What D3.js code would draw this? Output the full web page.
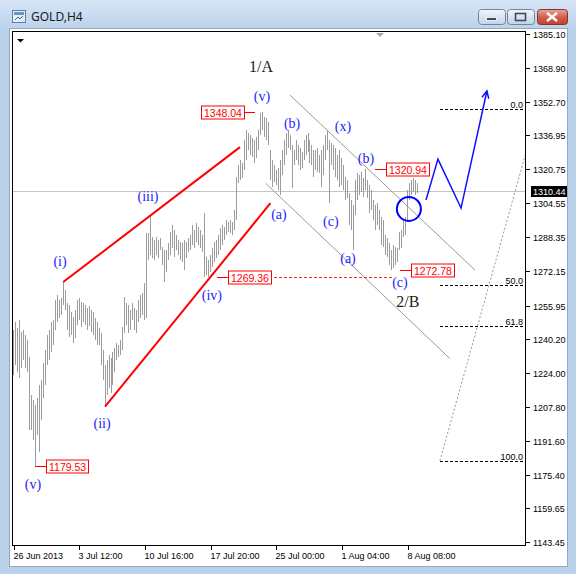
<!DOCTYPE html>
<html><head><meta charset="utf-8">
<script src="https://cdn.jsdelivr.net/npm/d3@7"></script>
<style>
html,body{margin:0;padding:0;background:#fff;}
svg{display:block;}
</style></head>
<body>
<svg id="c" width="576" height="574"></svg>
<script>
// ---------- DATA ----------
const highs = [
1244.3,1248.1,1245.2,1249.0,1243.3,1244.3,1241.9,1239.5,1231.5,1213.4,
1211.0,1208.6,1211.9,1218.1,1220.5,1228.6,1234.8,1241.9,1244.3,1248.1,
1249.0,1258.6,1260.9,1258.6,1259.5,1267.1,1263.3,1257.1,1256.2,1252.9,
1250.5,1253.8,1258.6,1259.5,1257.6,1257.1,1256.2,1254.8,1255.7,1253.8,
1252.9,1250.0,1248.1,1245.2,1242.9,1234.8,1227.6,1230.0,1232.4,1231.0,
1233.8,1235.7,1238.1,1237.2,1239.5,1245.7,1260.0,1257.1,1256.2,1253.8,
1257.1,1254.8,1253.8,1258.6,1260.9,1261.9,1266.6,1290.4,1290.4,1299.0,
1288.5,1287.1,1288.5,1287.1,1288.1,1283.8,1282.4,1282.4,1285.7,1290.9,
1294.2,1291.9,1289.5,1287.1,1286.2,1285.7,1287.1,1286.2,1288.1,1289.5,
1294.2,1291.9,1295.2,1293.3,1291.9,1289.5,1299.9,1279.0,1277.6,1280.0,
1283.3,1286.2,1287.1,1289.5,1292.8,1294.2,1293.3,1296.6,1295.7,1296.6,
1295.7,1301.4,1317.1,1322.8,1325.2,1323.7,1334.7,1339.4,1338.0,1337.1,
1335.6,1334.7,1336.1,1339.4,1347.5,1348.04,1345.6,1345.1,1343.2,1329.9,
1325.2,1322.8,1320.4,1321.4,1325.2,1329.9,1334.7,1338.0,1339.4,1337.1,
1332.3,1329.9,1334.7,1332.3,1330.9,1329.0,1334.7,1337.1,1338.0,1334.7,
1332.3,1329.9,1329.9,1330.9,1327.5,1329.9,1332.3,1337.1,1339.4,1334.7,
1333.2,1332.3,1330.9,1327.5,1329.9,1326.1,1322.8,1317.1,1315.6,1309.5,
1306.1,1303.8,1315.6,1319.0,1318.0,1319.5,1316.6,1320.94,1315.6,1313.3,
1310.9,1306.1,1303.8,1304.7,1301.4,1298.0,1296.6,1289.5,1288.1,1285.7,
1282.4,1284.7,1283.8,1283.3,1290.9,1291.9,1296.6,1298.0,1310.9,1314.2,
1315.6,1316.6,1315.6,1314.2
];
const lows = [
1222.9,1227.6,1224.3,1221.5,1226.2,1230.0,1226.2,1224.3,1196.7,1196.7,
1192.0,1179.53,1194.3,1186.3,1201.5,1211.9,1218.1,1227.6,1230.0,1233.8,
1237.2,1244.3,1248.1,1250.0,1251.4,1256.2,1253.8,1244.3,1241.0,1241.9,
1238.1,1240.5,1246.7,1249.0,1245.7,1248.1,1246.7,1244.3,1246.2,1243.3,
1241.9,1239.5,1237.2,1237.2,1227.6,1220.5,1207.8,1213.4,1216.7,1214.3,
1218.1,1224.3,1230.0,1231.5,1232.4,1234.8,1242.9,1246.7,1242.9,1244.3,
1249.0,1244.3,1242.9,1248.1,1250.0,1251.4,1249.0,1250.0,1277.6,1280.0,
1278.5,1277.6,1280.0,1278.5,1282.4,1275.2,1267.1,1271.9,1277.6,1280.0,
1283.3,1279.0,1282.4,1280.0,1277.6,1276.6,1272.8,1278.5,1281.4,1282.4,
1284.7,1283.3,1286.2,1284.7,1283.3,1281.4,1269.5,1270.5,1269.36,1271.9,
1274.3,1276.6,1278.5,1280.0,1282.4,1284.7,1287.1,1289.5,1290.9,1290.4,
1289.5,1291.9,1296.6,1314.2,1315.6,1316.6,1320.4,1325.2,1329.9,1327.5,
1326.6,1323.7,1326.1,1329.9,1337.1,1339.4,1336.1,1334.7,1332.3,1315.6,
1312.3,1314.7,1313.3,1310.9,1308.5,1318.0,1322.8,1327.5,1330.9,1329.9,
1311.8,1322.8,1325.2,1322.8,1320.4,1321.4,1325.2,1327.5,1329.0,1323.7,
1322.8,1317.1,1320.4,1319.5,1319.0,1312.3,1318.0,1325.2,1329.9,1304.7,
1322.8,1320.4,1317.1,1315.6,1312.3,1313.3,1310.9,1306.1,1307.1,1294.2,
1291.9,1282.4,1299.0,1306.1,1308.5,1309.9,1307.6,1310.9,1307.1,1299.9,
1301.4,1296.6,1291.9,1294.2,1291.9,1284.7,1283.8,1280.0,1279.0,1275.2,
1272.78,1273.8,1275.2,1276.6,1282.4,1283.3,1288.5,1289.5,1295.7,1306.1,
1308.5,1309.9,1308.5,1309.5
];
const lastPrice = 1310.44;
const priceTicks = [1385.10,1368.90,1352.70,1336.95,1320.75,1304.55,1288.35,1272.15,1255.95,1240.20,1224.00,1207.80,1191.60,1175.40,1159.65,1143.45];
const dateTickIdx = [0,33,66,99,132,165,198];
const dateLabels = ["26 Jun 2013","3 Jul 12:00","10 Jul 16:00","17 Jul 20:00","25 Jul 00:00","1 Aug 04:00","8 Aug 08:00"];
// wave labels: [text, bar index, price]
const waveLabels = [
  ["(i)",23.4,1277.1],["(ii)",44.5,1200.1],["(iii)",67.6,1308.0],["(iv)",99.7,1260.9],
  ["(v)",124.9,1355.6],["(v)",9.8,1171.0],["(a)",133.4,1299.5],["(b)",140.0,1342.8],
  ["(x)",165.6,1341.3],["(c)",159.5,1296.1],["(a)",168.1,1278.5],["(b)",177.1,1326.1],
  ["(c)",194.2,1267.1]
];
const degreeLabels = [["1/A",124.4,1369.9],["2/B",198.2,1258.1]];
// red price labels: [price, anchor bar index, direction]
const priceMarks = [[1179.53,10.8,1],[1348.04,121.4,-1],[1269.36,102.3,1],[1320.94,181.7,1],[1272.78,194.2,1]];
const dashedLevelEnd = 190.2; // 1269.36 dashed line end (bar index)
// trend lines [[idx,price],[idx,price]]
const redLines = [[[25,1267.1],[113.8,1331.3]],[[46,1207.8],[129.1,1304.6]]];
const greyLines = [[[138.9,1356.1],[231.9,1272.8]],[[126.6,1314.2],[219.3,1230.7]]];
const projection = [[207.3,1306.1],[213.3,1325.6],[224.9,1302.3],[237.9,1358.0]];
const circleAt = [198.7,1301.9];
const fibLevels = [0,50,61.8,100];
const fibLevelText = ["0.0","50.0","61.8","100.0"];
const fibHigh = 1349.3, fibLow = 1182.1, fibStartIdx = 214.3, fibEndIdx = 263.6;

// ---------- SCALES ----------
const x = d3.scaleLinear().domain([0,198]).range([13.5,407.5]);
const y = d3.scaleLinear().domain([1143.45,1385.10]).range([542,34]);
const svg = d3.select("#c");
const defs = svg.append("defs");

// ---------- WINDOW CHROME ----------
const tg = defs.append("linearGradient").attr("id","tg").attr("x1",0).attr("y1",0).attr("x2",0).attr("y2",1);
tg.append("stop").attr("offset",0).attr("stop-color","#d6e5f6");
tg.append("stop").attr("offset",1).attr("stop-color","#bcd3ec");
const bg = defs.append("linearGradient").attr("id","bg").attr("x1",0).attr("y1",0).attr("x2",0).attr("y2",1);
bg.append("stop").attr("offset",0).attr("stop-color","#f1f5fb");
bg.append("stop").attr("offset",0.5).attr("stop-color","#d9e4f1");
bg.append("stop").attr("offset",1).attr("stop-color","#c2d3e8");
const cg = defs.append("linearGradient").attr("id","cg").attr("x1",0).attr("y1",0).attr("x2",0).attr("y2",1);
cg.append("stop").attr("offset",0).attr("stop-color","#e9a596");
cg.append("stop").attr("offset",0.5).attr("stop-color","#d2604e");
cg.append("stop").attr("offset",1).attr("stop-color","#c0402f");

svg.append("rect").attr("x",0).attr("y",0).attr("width",576).attr("height",574).attr("fill","#bad1ea");
svg.append("rect").attr("x",0).attr("y",0).attr("width",576).attr("height",29).attr("fill","url(#tg)");
svg.append("rect").attr("x",9.5).attr("y",28.5).attr("width",558).attr("height",538)
  .attr("fill","#fff").attr("stroke","#93a9c3");
// icon
const ic = svg.append("g").attr("transform","translate(12,10)");
ic.append("rect").attr("x",0.5).attr("y",0.5).attr("width",13).attr("height",12).attr("fill","#e8f0fa").attr("stroke","#5b7fa8");
ic.append("rect").attr("x",2).attr("y",2).attr("width",10).attr("height",3).attr("fill","#6b95c6");
ic.append("path").attr("d","M3,10 L6,7 L8,9 L11,6").attr("fill","none").attr("stroke","#3a66a0");
svg.append("text").attr("x",31).attr("y",21).attr("font-family","'Noto Sans','DejaVu Sans',sans-serif")
  .attr("font-size",12).attr("fill","#1a1a1a").text("GOLD,H4");
// buttons
const btn = (bx,w,fill,stroke)=>svg.append("rect").attr("x",bx+0.5).attr("y",9.5).attr("width",w).attr("height",15)
  .attr("rx",3).attr("fill",fill).attr("stroke",stroke);
btn(478,27,"url(#bg)","#7086a3");
btn(507,27,"url(#bg)","#7086a3");
btn(537,30,"url(#cg)","#8a3328");
svg.append("rect").attr("x",486.5).attr("y",17.5).attr("width",10).attr("height",3).attr("fill","#3c4a5e").attr("stroke","#fff").attr("stroke-width",0.8);
svg.append("rect").attr("x",515.5).attr("y",13.5).attr("width",10).attr("height",7).attr("fill","none").attr("stroke","#3c4a5e").attr("stroke-width",1.6);
svg.append("path").attr("d","M547,13 L557,21 M557,13 L547,21").attr("stroke","#fff").attr("stroke-width",2.4);

// ---------- PLOT ----------
defs.append("clipPath").attr("id","clip").append("rect").attr("x",13).attr("y",32).attr("width",512).attr("height",513);
const P = svg.append("g").attr("clip-path","url(#clip)");
const line = d3.line().x(d=>x(d[0])).y(d=>y(d[1]));

// current price line
P.append("line").attr("x1",12).attr("x2",526).attr("y1",Math.round(y(lastPrice))+0.5).attr("y2",Math.round(y(lastPrice))+0.5)
  .attr("stroke","#c4c4c4");

// bars
P.append("g").selectAll("line").data(highs).join("line")
  .attr("x1",(d,i)=>x(i)).attr("x2",(d,i)=>x(i))
  .attr("y1",d=>y(d)).attr("y2",(d,i)=>y(lows[i]))
  .attr("stroke","#9c9c9c").attr("stroke-width",1).attr("shape-rendering","crispEdges");

// channel lines
greyLines.forEach(l=>P.append("path").attr("d",line(l)).attr("stroke","#9a9a9a").attr("fill","none"));
redLines.forEach(l=>P.append("path").attr("d",line(l)).attr("stroke","#ff0000").attr("stroke-width",2).attr("fill","none"));

// fibonacci
P.append("path").attr("d",line([[fibStartIdx,fibLow],[fibEndIdx,fibHigh]])).attr("stroke","#9a9a9a")
  .attr("stroke-dasharray","2,2").attr("fill","none");
fibLevels.forEach((lv,k)=>{
  const p = fibHigh - lv/100*(fibHigh-fibLow);
  const yy = Math.round(y(p))+0.5;
  P.append("line").attr("x1",x(fibStartIdx)).attr("x2",524).attr("y1",yy).attr("y2",yy)
    .attr("stroke","#000").attr("stroke-dasharray","3,2").attr("shape-rendering","crispEdges");
  P.append("text").attr("x",523).attr("y",yy-2).attr("text-anchor","end")
    .attr("font-family","'Liberation Sans',Arial,sans-serif").attr("font-size",9).attr("fill","#000").text(fibLevelText[k]);
});

// red price labels
const RL = P.append("g");
priceMarks.forEach(([v,idx,dir])=>{
  const ax = x(idx), yy = Math.round(y(v))+0.5;
  const bx = ax + dir*11;
  RL.append("line").attr("x1",ax).attr("x2",bx).attr("y1",yy).attr("y2",yy).attr("stroke","#ff0000").attr("shape-rendering","crispEdges");
  const box = RL.append("rect");
  const t = RL.append("text").attr("y",yy+4).attr("font-family","'Liberation Sans',Arial,sans-serif")
    .attr("font-size",10.5).attr("fill","#ff0000").text(v.toFixed(2));
  const w = t.node().getComputedTextLength()+5;
  const left = dir>0 ? bx : bx - w;
  box.attr("x",Math.round(left)+0.5).attr("y",yy-6.5).attr("width",Math.round(w)).attr("height",13)
    .attr("fill","#fff").attr("stroke","#ff0000");
  t.attr("x",Math.round(left)+3);
  if (v===1269.36){
    RL.append("line").attr("x1",Math.round(left+w)+3).attr("x2",x(dashedLevelEnd)).attr("y1",yy).attr("y2",yy)
      .attr("stroke","#ff2020").attr("stroke-dasharray","3,2").attr("shape-rendering","crispEdges");
  }
});

// wave labels
waveLabels.forEach(([t,i,p])=>P.append("text").attr("x",x(i)).attr("y",y(p)).attr("dy","0.35em")
  .attr("text-anchor","middle").attr("font-family","'Liberation Serif','Times New Roman',serif")
  .attr("font-size",14).attr("fill","#2424ff").text(t));
degreeLabels.forEach(([t,i,p])=>P.append("text").attr("x",x(i)).attr("y",y(p)).attr("dy","0.35em")
  .attr("text-anchor","middle").attr("font-family","'Liberation Serif','Times New Roman',serif")
  .attr("font-size",16).attr("fill","#222").text(t));

// projection and circle
P.append("circle").attr("cx",x(circleAt[0])).attr("cy",y(circleAt[1])).attr("r",12)
  .attr("fill","none").attr("stroke","#0000ff").attr("stroke-width",2);
P.append("path").attr("d",line(projection)).attr("fill","none").attr("stroke","#1010ff").attr("stroke-width",1.5);
{
  const a = projection[projection.length-2], b = projection[projection.length-1];
  const x1=x(a[0]),y1=y(a[1]),x2=x(b[0]),y2=y(b[1]);
  const ang = Math.atan2(y2-y1,x2-x1), L=8;
  const p1=[x2-L*Math.cos(ang-0.45),y2-L*Math.sin(ang-0.45)], p2=[x2-L*Math.cos(ang+0.45),y2-L*Math.sin(ang+0.45)];
  P.append("path").attr("d",`M${p1}L${x2},${y2}L${p2}`).attr("fill","none").attr("stroke","#1010ff").attr("stroke-width",1.5);
}

// frame
svg.append("rect").attr("x",12.5).attr("y",31.5).attr("width",513).attr("height",514).attr("fill","none").attr("stroke","#000");
svg.append("path").attr("d","M17,39 L24,39 L20.5,42.5 Z").attr("fill","#000");
svg.append("path").attr("d","M376,33 L384,33 L380,37 Z").attr("fill","#a8a8a8");

// price axis
const ax = svg.append("g").attr("font-family","'Liberation Sans',Arial,sans-serif").attr("font-size",9).attr("fill","#000");
priceTicks.forEach(v=>{
  const yy = Math.round(y(v))+0.5;
  ax.append("line").attr("x1",526).attr("x2",530).attr("y1",yy).attr("y2",yy).attr("stroke","#000");
  ax.append("text").attr("x",533).attr("y",yy+3.3).text(v.toFixed(2));
});
{
  const yy = Math.round(y(lastPrice))+0.5;
  svg.append("rect").attr("x",531).attr("y",yy-5.5).attr("width",36).attr("height",11).attr("fill","#000");
  svg.append("text").attr("x",533).attr("y",yy+3.3).attr("font-family","'Liberation Sans',Arial,sans-serif")
    .attr("font-size",9).attr("fill","#fff").text(lastPrice.toFixed(2));
}
// date axis
dateTickIdx.forEach((i,k)=>{
  const xx = Math.round(x(i))+0.5;
  ax.append("line").attr("x1",xx).attr("x2",xx).attr("y1",546).attr("y2",550).attr("stroke","#000");
  ax.append("text").attr("x",xx-1).attr("y",559).text(dateLabels[k]);
});
</script>
</body></html>
